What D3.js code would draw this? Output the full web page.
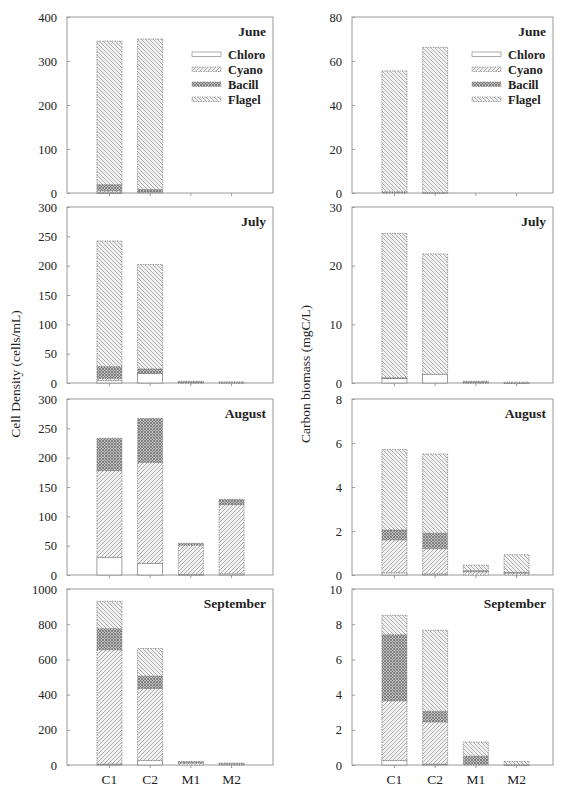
<!DOCTYPE html>
<html>
<head>
<meta charset="utf-8">
<script src="https://cdn.jsdelivr.net/npm/d3@7"></script>
<style>
  body { margin: 0; background: #fff; }
  svg text { font-family: "Liberation Serif", "Times New Roman", serif; fill: #222; }
</style>
</head>
<body>
<div id="chart"></div>
<script>
// categories
const sites = ["C1", "C2", "M1", "M2"];
const groups = ["Chloro", "Cyano", "Bacill", "Flagel"];
const months = ["June", "July", "August", "September"];

// cell density (cells/mL), one row per group: Chloro, Cyano, Bacill, Flagel
const cellJune = [[1, 0, 0, 0], [4, 2, 0, 0], [14, 6, 0, 0], [326, 342, 0, 0]];
const cellJuly = [[4, 16, 0, 0], [4, 0, 1, 0], [20, 8, 1, 1], [214, 178, 1, 1]];
const cellAugust = [[30, 20, 1, 2], [148, 172, 50, 118], [55, 75, 3, 9], [0, 0, 0, 0]];
const cellSeptember = [[5, 25, 0, 0], [650, 410, 12, 6], [120, 70, 4, 3], [155, 157, 4, 2]];

// carbon biomass (mgC/L)
const carbJune = [[0, 0, 0, 0], [0, 0, 0, 0], [0.5, 0.2, 0, 0], [55, 66, 0, 0]];
const carbJuly = [[0.8, 1.5, 0, 0], [0, 0, 0.1, 0], [0.1, 0, 0.1, 0.05], [24.6, 20.5, 0.1, 0.1]];
const carbAugust = [[0.1, 0.05, 0, 0], [1.5, 1.15, 0.15, 0.1], [0.45, 0.7, 0.05, 0.02], [3.65, 3.6, 0.25, 0.8]];
const carbSeptember = [[0.25, 0.05, 0, 0], [3.4, 2.4, 0, 0], [3.75, 0.6, 0.5, 0.02], [1.1, 4.6, 0.8, 0.18]];

// axis maxima and tick steps
const cellMax = [400, 300, 300, 1000];
const cellStep = [100, 50, 50, 200];
const carbMax = [80, 30, 8, 10];
const carbStep = [20, 10, 2, 2];

const cellData = [cellJune, cellJuly, cellAugust, cellSeptember];
const carbData = [carbJune, carbJuly, carbAugust, carbSeptember];

const W = 578, H = 791;
const svg = d3.select("#chart").append("svg").attr("width", W).attr("height", H);

// fill patterns
const defs = svg.append("defs");
function hatch(id, dir, col, bg) {
    const p = defs.append("pattern").attr("id", id)
        .attr("patternUnits", "userSpaceOnUse").attr("width", 4).attr("height", 4);
    p.append("rect").attr("width", 4).attr("height", 4).attr("fill", bg);
    const d = dir > 0 ? "M-1,1 L1,-1 M0,4 L4,0 M3,5 L5,3" : "M-1,3 L1,5 M0,0 L4,4 M3,-1 L5,1";
    p.append("path").attr("d", d).attr("stroke", col).attr("stroke-width", 0.8);
}
hatch("pCyano", 1, "#9a9a9a", "#f2f2f2");
hatch("pFlagel", -1, "#9a9a9a", "#f2f2f2");
const pb = defs.append("pattern").attr("id", "pBacill")
    .attr("patternUnits", "userSpaceOnUse").attr("width", 3).attr("height", 3);
pb.append("rect").attr("width", 3).attr("height", 3).attr("fill", "#bdbdbd");
pb.append("path").attr("d", "M0,0 L3,3 M3,0 L0,3").attr("stroke", "#737373").attr("stroke-width", 0.8);

const fills = { Chloro: "#ffffff", Cyano: "url(#pCyano)", Bacill: "url(#pBacill)", Flagel: "url(#pFlagel)" };

const panelTops = [17, 207, 399, 589];
const panelH = 176;
const columns = [
    { x0: 67, x1: 273, data: cellData, max: cellMax, step: cellStep, label: "Cell Density (cells/mL)", lx: 15 },
    { x0: 352, x1: 553, data: carbData, max: carbMax, step: carbStep, label: "Carbon biomass (mgC/L)", lx: 305 }
];

columns.forEach(col => {
    const pw = col.x1 - col.x0;
    const x = d3.scaleBand().domain(sites)
        .range([22, 185]).paddingInner(0.386).paddingOuter(0.195);

    months.forEach((m, i) => {
        const top = panelTops[i];
        const g = svg.append("g").attr("transform", `translate(${col.x0},${top})`);
        const y = d3.scaleLinear().domain([0, col.max[i]]).range([panelH, 0]);

        // frame
        g.append("rect").attr("width", pw).attr("height", panelH)
            .attr("fill", "none").attr("stroke", "#999").attr("stroke-width", 1);

        // stacked bars
        const rows = sites.map((s, j) => {
            const r = { site: s };
            groups.forEach((gr, k) => r[gr] = col.data[i][k][j]);
            return r;
        });
        const stack = d3.stack().keys(groups)(rows);
        stack.forEach(layer => {
            g.selectAll(null).data(layer.filter(d => d[1] - d[0] > 0)).join("rect")
                .attr("x", d => x(d.data.site))
                .attr("width", x.bandwidth())
                .attr("y", d => y(d[1]))
                .attr("height", d => Math.max(0.8, y(d[0]) - y(d[1])))
                .attr("fill", fills[layer.key])
                .attr("stroke", "#777")
                .attr("stroke-width", 0.7)
                .attr("stroke-dasharray", layer.key === "Chloro" ? null : "1.5,1");
        });

        // y axis
        const ticks = d3.range(0, col.max[i] + 0.001, col.step[i]);
        const ya = g.append("g").call(d3.axisLeft(y).tickValues(ticks)
            .tickFormat(d3.format("d")).tickSize(-3).tickPadding(10));
        ya.select(".domain").remove();
        ya.selectAll("line").attr("stroke", "#999");
        ya.selectAll("text").style("font-size", "12.5px");

        // x ticks
        const xa = g.append("g").attr("transform", `translate(0,${panelH})`)
            .call(d3.axisBottom(x).tickSize(3).tickFormat(""));
        xa.select(".domain").remove();
        xa.selectAll("line").attr("stroke", "#999");

        // month title
        g.append("text").attr("x", pw - 7).attr("y", 19)
            .attr("text-anchor", "end").style("font-weight", "bold").style("font-size", "13.5px")
            .text(m);

        // legend in first panel
        if (i === 0) {
            const lg = g.append("g").attr("transform", `translate(${pw - 81},${38})`);
            groups.forEach((gr, k) => {
                lg.append("rect").attr("x", 0).attr("y", k * 15 - 3).attr("width", 29).attr("height", 4.5)
                    .attr("fill", fills[gr]).attr("stroke", "#888").attr("stroke-width", 0.7)
                    .attr("stroke-dasharray", gr === "Chloro" ? null : "1.5,1");
                lg.append("text").attr("x", 36).attr("y", k * 15 + 4)
                    .style("font-weight", "bold").style("font-size", "12.5px").text(gr);
            });
        }

        // site labels under the last panel
        if (i === months.length - 1) {
            g.selectAll(null).data(sites).join("text")
                .attr("x", d => x(d) + x.bandwidth() / 2)
                .attr("y", panelH + 19)
                .attr("text-anchor", "middle").style("font-size", "13.5px")
                .text(d => d);
        }
    });

    svg.append("text")
        .attr("transform", `translate(${col.lx},374) rotate(-90)`)
        .attr("text-anchor", "middle").attr("dy", "0.35em")
        .style("font-size", "13.5px")
        .text(col.label);
});
</script>
</body>
</html>
